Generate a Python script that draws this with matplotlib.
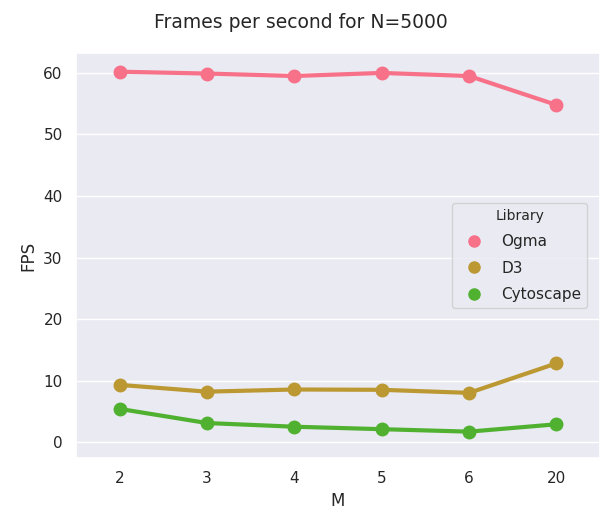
import matplotlib
matplotlib.use("Agg")
import matplotlib.pyplot as plt
import seaborn as sns
from matplotlib.lines import Line2D

# Data
m_values = ["2", "3", "4", "5", "6", "20"]
libraries = ["Ogma", "D3", "Cytoscape"]
ogma_fps = [60.2, 59.9, 59.5, 60.0, 59.5, 54.8]
d3_fps = [9.3, 8.2, 8.55, 8.5, 8.0, 12.8]
cytoscape_fps = [5.4, 3.1, 2.5, 2.1, 1.7, 2.9]

sns.set_theme(style="darkgrid")
colors = sns.color_palette("husl", 6)[:3]

fig = plt.figure(figsize=(6.02, 5.09), dpi=100)
ax = fig.add_axes([0.126, 0.1, 0.871, 0.796])

series = [ogma_fps, d3_fps, cytoscape_fps]
handles = []
for name, vals, c in zip(libraries, series, colors):
    ax.plot(m_values, vals, color=c, lw=3, marker="o", markersize=9,
            solid_capstyle="round")
    handles.append(Line2D([], [], ls="", marker="o", markersize=8, color=c, label=name))

ax.set_xlim(-0.5, 5.5)
ax.set_ylim(-2.6, 63.25)
ax.set_yticks([0, 10, 20, 30, 40, 50, 60])
ax.grid(False, axis="x")
ax.tick_params(labelsize=11)
ax.set_xlabel("M", fontsize=12)
ax.set_ylabel("FPS", fontsize=12)
fig.suptitle("Frames per second for N=5000", fontsize=13.5, y=0.975)

leg = ax.legend(handles=handles, title="Library", loc="center right",
                bbox_to_anchor=(0.99, 0.5), fontsize=11, title_fontsize=10,
                labelspacing=0.75)

fig.savefig("out.png", dpi=100)
